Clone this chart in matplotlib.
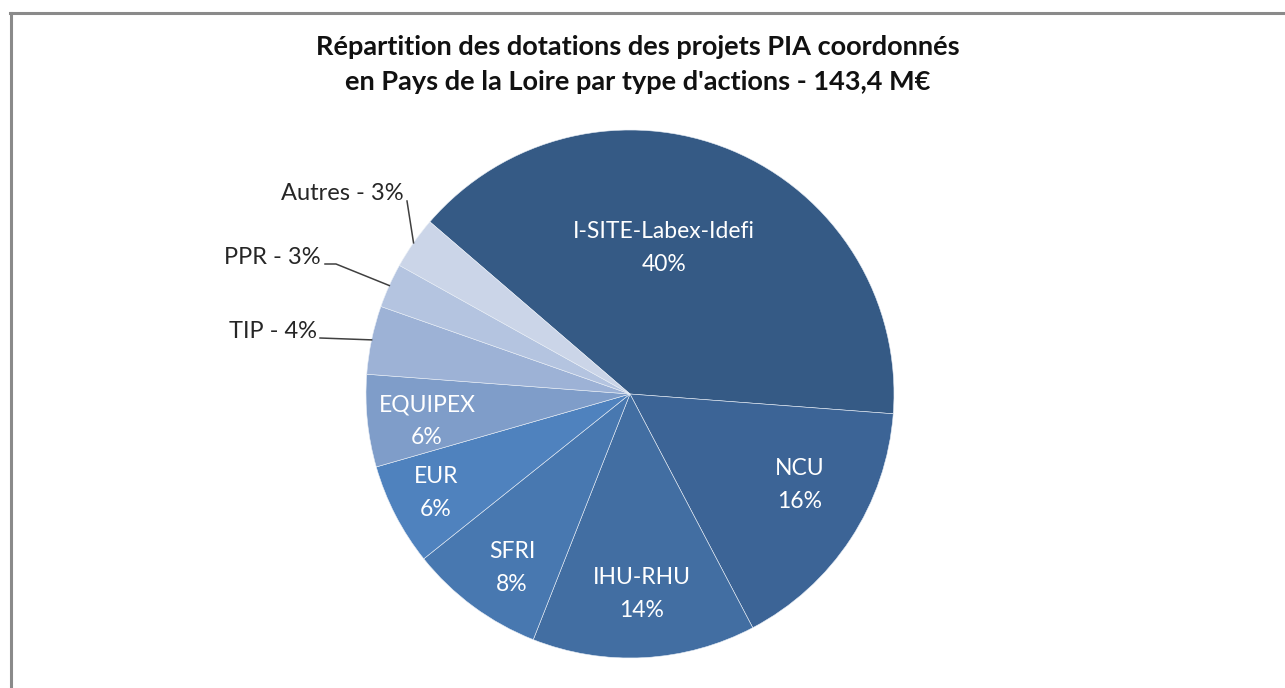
import numpy as np
import matplotlib
matplotlib.use("Agg")
import matplotlib.pyplot as plt
from matplotlib.lines import Line2D

plt.rcParams['font.family'] = ['Lato', 'DejaVu Sans']

# dotations en M€ (total 143,4 M€)
actions = ["I-SITE-Labex-Idefi", "NCU", "IHU-RHU", "SFRI", "EUR",
           "EQUIPEX", "TIP", "PPR", "Autres"]
montants = [57.2, 23.1, 19.6, 11.9, 9.0, 8.1, 6.0, 3.9, 4.6]
couleurs = ["#355a85", "#3c6496", "#426ea2", "#4878b0", "#4f82be",
            "#7f9dc9", "#9db2d6", "#b4c4e0", "#cbd5e8"]

titre = ("Répartition des dotations des projets PIA coordonnés\n"
         "en Pays de la Loire par type d'actions - 143,4 M€")

W, H = 1285, 688
fig = plt.figure(figsize=(W / 100, H / 100), dpi=100)

# centre du camembert (px) et rayon
cx, cy, R = 630, 394, 264
ax = fig.add_axes([(cx - R) / W, (H - cy - R) / H, 2 * R / W, 2 * R / H])

wedges, _ = ax.pie(montants, colors=couleurs, startangle=139.3,
                   counterclock=False, radius=1,
                   wedgeprops=dict(edgecolor="#e8eef6", linewidth=0.4))
ax.set_xlim(-1, 1)
ax.set_ylim(-1, 1)
ax.set_aspect("auto")
ax.axis("off")

total = sum(montants)
pct = [round(100 * m / total) for m in montants]

# étiquettes internes (px)
pos_int = {0: (664, 248), 1: (800, 485), 2: (642, 594),
           3: (512, 568), 4: (436, 493), 5: (427, 421)}
for i, (px, py) in pos_int.items():
    ax.text((px - cx) / R, (cy - py) / R, f"{actions[i]}\n{pct[i]}%",
            ha="center", va="center", color="white", fontsize=16.5,
            linespacing=1.65)

# étiquettes externes avec traits de rappel (px)
ext = {
    8: dict(txt=(404, 193), pts=[(407, 201)]),
    7: dict(txt=(321, 258), pts=[(325, 264), (336, 264)]),
    6: dict(txt=(317, 331), pts=[(320, 338)]),
}
for i, d in ext.items():
    w = wedges[i]
    mid = np.deg2rad((w.theta1 + w.theta2) / 2)
    tx, ty = d["txt"]
    ax.text((tx - cx) / R, (cy - ty) / R, f"{actions[i]} - {pct[i]}%",
            ha="right", va="center", color="#262626", fontsize=17)
    xs = [(p[0] - cx) / R for p in d["pts"]] + [np.cos(mid)]
    ys = [(cy - p[1]) / R for p in d["pts"]] + [np.sin(mid)]
    ax.plot(xs, ys, color="#404040", lw=1.1, clip_on=False)

fig.text(638 / W, 1 - 64.5 / H, titre, ha="center", va="center",
         fontsize=19.5, fontweight="bold", color="#111111", linespacing=1.55)

# cadre gris
fig.add_artist(Line2D([11 / W, 11 / W], [0, 1 - 12.5 / H], color="#8a8a8a",
                      lw=2.2, transform=fig.transFigure))
fig.add_artist(Line2D([10 / W, 1], [1 - 13 / H, 1 - 13 / H], color="#8a8a8a",
                      lw=2.2, transform=fig.transFigure))

fig.savefig("out.png", dpi=100)
